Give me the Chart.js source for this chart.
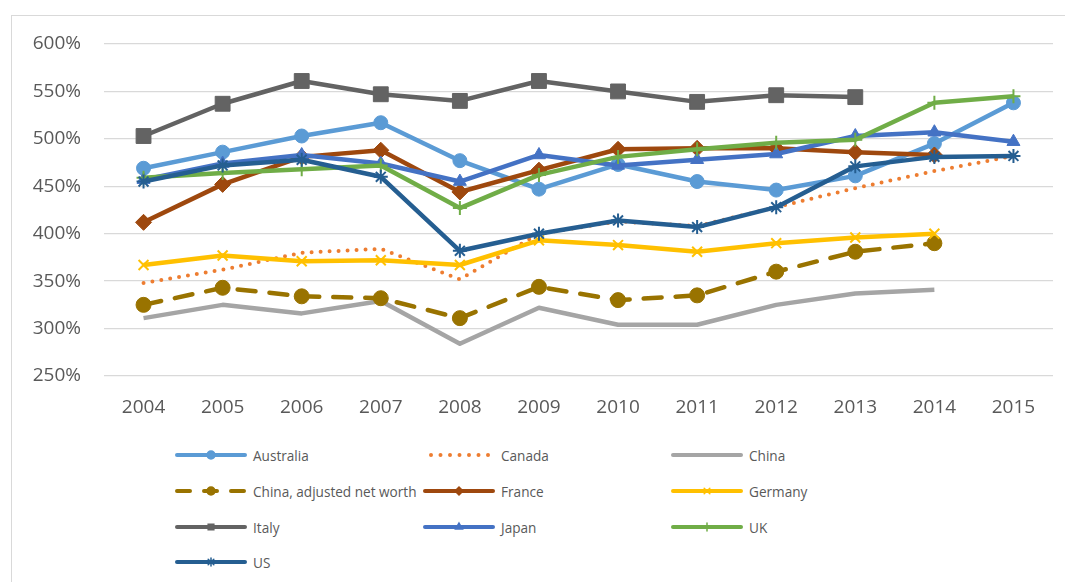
<!DOCTYPE html>
<html>
<head>
<meta charset="utf-8">
<script src="https://cdn.jsdelivr.net/npm/chart.js@4/dist/chart.umd.min.js"></script>
<style>
  body { margin: 0; background: #fff; font-family: "Open Sans", sans-serif; }
  #frame { position: absolute; left: 11px; top: 15px; width: 1100px; height: 600px; border: 1px solid #d9d9d9; }
  #wrap { position: absolute; left: 0; top: 0; width: 1065px; height: 430px; }
  #legend { position: absolute; left: 0; top: 0; }
  .item { position: absolute; height: 20px; display: flex; align-items: center; font-size: 13.6px; color: #595959; white-space: nowrap; }
  .item canvas { margin-right: 6px; }
</style>
</head>
<body>
<div id="frame"></div>
<div id="wrap"><canvas id="chart"></canvas></div>
<div id="legend"></div>
<script>
/* values, in percent */
const years = ['2004','2005','2006','2007','2008','2009','2010','2011','2012','2013','2014','2015'];
const australia = [469, 486, 503, 517, 477, 447, 473, 455, 446, 461, 495, 538];
const canada    = [348, 362, 380, 384, 352, 400, 413, 408, 428, 448, 466, 482];
const china     = [311, 325, 316, 329, 284, 322, 304, 304, 325, 337, 341, null];
const chinaAdj  = [325, 343, 334, 332, 311, 344, 330, 335, 360, 381, 390, null];
const france    = [412, 452, 481, 488, 444, 467, 489, 490, 490, 486, 483, null];
const germany   = [367, 377, 371, 372, 367, 393, 388, 381, 390, 396, 400, null];
const italy     = [503, 537, 561, 547, 540, 561, 550, 539, 546, 544, null, null];
const japan     = [457, 474, 483, 474, 455, 483, 472, 478, 484, 503, 507, 497];
const uk        = [459, 464, 468, 472, 427, 462, 481, 489, 496, 499, 538, 545];
const us        = [455, 472, 478, 460, 382, 400, 414, 407, 428, 471, 481, 482];
const yTicks = [250, 300, 350, 400, 450, 500, 550, 600];

/* series styles (Excel-like) */
const series = [
  { label: 'Australia', data: australia, color: '#5B9BD5', style: 'circle', r: 7 },
  { label: 'Canada', data: canada, color: '#ED7D31', style: false, r: 0, dash: [0, 9], width: 4 },
  { label: 'China', data: china, color: '#A5A5A5', style: false, r: 0 },
  { label: 'China, adjusted net worth', data: chinaAdj, color: '#997300', style: 'circle', r: 7.5, dash: [18, 14] },
  { label: 'France', data: france, color: '#9E480E', style: 'rectRot', r: 8 },
  { label: 'Germany', data: germany, color: '#FFC000', style: 'crossRot', r: 7, pbw: 2 },
  { label: 'Italy', data: italy, color: '#636363', style: 'rect', r: 10.5 },
  { label: 'Japan', data: japan, color: '#4472C4', style: 'triangle', r: 7.5 },
  { label: 'UK', data: uk, color: '#70AD47', style: 'cross', r: 7, pbw: 2 },
  { label: 'US', data: us, color: '#255E91', style: 'star', r: 7, pbw: 2 }
];

const datasets = series.map(function(s, i) {
  return {
    label: s.label,
    data: s.data,
    borderColor: s.color,
    backgroundColor: s.color,
    borderWidth: s.width || 4.5,
    borderDash: s.dash || [],
    borderCapStyle: s.dash ? 'round' : 'butt',
    borderJoinStyle: 'round',
    pointStyle: s.style,
    pointRadius: s.r,
    pointBackgroundColor: s.color,
    pointBorderColor: s.color,
    pointBorderWidth: s.pbw || 1,
    tension: 0,
    order: 10 - i // later series drawn on top, like Excel
  };
});

new Chart(document.getElementById('chart'), {
  type: 'line',
  data: { labels: years, datasets: datasets },
  options: {
    responsive: true,
    maintainAspectRatio: false,
    animation: false,
    layout: { padding: { top: 44, right: 12, bottom: 0, left: 0 } },
    plugins: { legend: { display: false }, tooltip: { enabled: false } },
    scales: {
      x: {
        offset: true,
        grid: { display: false, drawTicks: false },
        border: { display: false },
        ticks: { color: '#595959', font: { family: 'Open Sans', size: 19 }, padding: 20, maxRotation: 0 },
        afterFit: function(scale) { scale.height = 54; }
      },
      y: {
        min: 250, max: 600,
        afterBuildTicks: function(scale) { scale.ticks = yTicks.map(function(v) { return { value: v }; }); },
        grid: { color: '#d9d9d9', lineWidth: 1.3, drawTicks: false },
        border: { display: false },
        ticks: {
          color: '#595959', font: { family: 'Open Sans', size: 19 }, padding: 23,
          callback: function(v) { return v + '%'; }
        },
        afterFit: function(scale) { scale.width = 104; }
      }
    }
  }
});

/* legend in three columns, drawn by hand */
const legend = document.getElementById('legend');
const colX = [175, 423, 671];
const rowY = [455, 491, 527, 562];
series.forEach(function(s, i) {
  const item = document.createElement('div');
  item.className = 'item';
  item.style.left = colX[i % 3] + 'px';
  item.style.top = (rowY[Math.floor(i / 3)] - 10) + 'px';
  const c = document.createElement('canvas');
  c.width = 72; c.height = 16;
  const ctx = c.getContext('2d');
  ctx.strokeStyle = s.color;
  ctx.fillStyle = s.color;
  ctx.lineWidth = s.width || 4;
  ctx.lineCap = 'round';
  ctx.setLineDash(s.dash ? (s.label === 'Canada' ? [0, 9.5] : [13, 14]) : []);
  ctx.beginPath();
  ctx.moveTo(s.label === 'Canada' ? 8 : 2, 8);
  ctx.lineTo(70, 8);
  ctx.stroke();
  ctx.setLineDash([]);
  if (s.style) {
    ctx.lineWidth = 1.5;
    Chart.helpers.drawPoint(ctx, { pointStyle: s.style, radius: Math.min(4, s.r / 2 + 0.5), borderWidth: 1.5 }, 36, 8);
  }
  item.appendChild(c);
  const t = document.createElement('span');
  t.textContent = s.label;
  item.appendChild(t);
  legend.appendChild(item);
});
</script>
</body>
</html>
